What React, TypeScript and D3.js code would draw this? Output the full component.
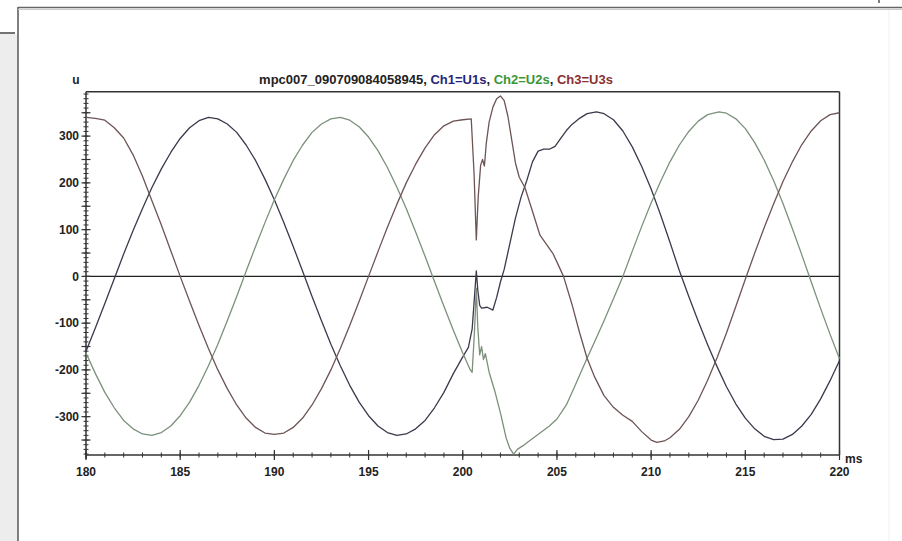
import React from "react";
import * as d3 from "d3";

const titleParts = ["mpc007_090709084058945, ", "Ch1=U1s", ", ", "Ch2=U2s", ", ", "Ch3=U3s"];
const yAxisName = "u";
const xAxisName = "ms";
const xTickLabels = [180, 185, 190, 195, 200, 205, 210, 215, 220];
const yTickLabels = [-300, -200, -100, 0, 100, 200, 300];

const ch1: [number, number][] = [
  [180,-160],[180.5,-110],[181,-58],[181.5,-5],[182,48],[182.5,98],[183,145],[183.5,190],[184,230],[184.5,265],
  [185,295],[185.5,318],[186,333],[186.5,340],[187,337],[187.5,326],[188,308],[188.5,281],[189,248],[189.5,208],
  [190,164],[190.5,115],[191,64],[191.5,11],[192,-43],[192.5,-95],[193,-145],[193.5,-191],[194,-233],[194.5,-269],
  [195,-298],[195.5,-320],[196,-334],[196.5,-340],[197,-337],[197.5,-326],[198,-308],[198.5,-281],[199,-248],[199.5,-208],
  [200,-172],[200.3,-152],[200.5,-112],[200.62,-45],[200.72,12],[200.8,-30],[200.9,-62],[201,-68],[201.3,-66],[201.6,-72],
  [201.8,-45],[202,-12],[202.2,15],[202.5,70],[202.8,125],[203.1,170],[203.4,205],[203.7,245],[204,268],[204.3,272],
  [204.6,272],[204.9,278],[205.2,295],[205.5,312],[205.8,325],[206.2,338],[206.6,348],[207.1,352],[207.5,348],[208,335],
  [208.5,311],[209,277],[209.5,235],[210,187],[210.5,132],[211,73],[211.5,12],[212,-43],[212.5,-96],[213,-146],
  [213.5,-193],[214,-236],[214.5,-273],[215,-303],[215.5,-326],[216,-342],[216.5,-349],[217,-348],[217.5,-338],[218,-320],
  [218.5,-295],[219,-262],[219.5,-223],[220,-180]
];

const ch2: [number, number][] = [
  [180,-164],[180.5,-208],[181,-248],[181.5,-281],[182,-308],[182.5,-326],[183,-337],[183.5,-340],[184,-334],[184.5,-320],
  [185,-298],[185.5,-269],[186,-233],[186.5,-191],[187,-145],[187.5,-95],[188,-43],[188.5,11],[189,64],[189.5,115],
  [190,164],[190.5,208],[191,248],[191.5,281],[192,308],[192.5,326],[193,337],[193.5,340],[194,334],[194.5,320],
  [195,298],[195.5,269],[196,233],[196.5,191],[197,145],[197.5,95],[198,43],[198.5,-11],[199,-64],[199.5,-115],
  [200,-164],[200.4,-200],[200.5,-205],[200.62,-120],[200.72,-25],[200.8,-110],[200.9,-168],[201,-150],[201.1,-178],[201.2,-165],
  [201.4,-205],[201.7,-245],[202,-292],[202.3,-345],[202.5,-368],[202.7,-380],[202.9,-370],[203.2,-362],[203.6,-350],[204.1,-335],
  [204.6,-320],[205,-305],[205.5,-275],[206,-230],[206.6,-175],[207,-140],[207.5,-95],[208,-48],[208.5,0],[209,54],
  [209.5,107],[210,157],[210.5,203],[211,245],[211.5,281],[212,310],[212.5,332],[213,346],[213.6,352],[214,349],
  [214.5,337],[215,316],[215.5,286],[216,249],[216.5,205],[217,156],[217.5,102],[218,46],[218.5,-12],[219,-69],
  [219.5,-124],[220,-176]
];

const ch3: [number, number][] = [
  [180,340],[180.5,338],[181,334],[181.5,318],[182,296],[182.5,260],[183,214],[183.5,162],[184,110],[184.5,55],
  [185,0],[185.5,-53],[186,-105],[186.5,-154],[187,-200],[187.5,-240],[188,-275],[188.5,-303],[189,-323],[189.5,-335],
  [190,-338],[190.5,-335],[191,-323],[191.5,-303],[192,-275],[192.5,-240],[193,-200],[193.5,-154],[194,-105],[194.5,-53],
  [195,0],[195.5,53],[196,105],[196.5,154],[197,200],[197.5,240],[198,275],[198.5,303],[199,322],[199.5,332],
  [200,335],[200.45,337],[200.6,220],[200.72,78],[200.82,170],[200.95,238],[201.05,250],[201.15,236],[201.25,285],[201.4,330],
  [201.6,362],[201.8,380],[202,386],[202.2,376],[202.4,342],[202.6,292],[202.8,242],[203,212],[203.3,190],[203.6,152],
  [204.1,88],[204.5,65],[204.8,48],[205.1,22],[205.35,0],[205.8,-60],[206.2,-120],[206.6,-175],[207,-215],[207.5,-255],
  [208,-280],[208.5,-297],[209,-310],[209.5,-332],[210,-350],[210.3,-355],[210.7,-352],[211,-345],[211.5,-327],[212,-300],
  [212.5,-265],[213,-222],[213.5,-174],[214,-121],[214.5,-64],[215,-6],[215.5,50],[216,104],[216.5,155],[217,203],
  [217.5,245],[218,282],[218.5,311],[219,333],[219.5,346],[220,350]
];

const series = [
  { name: "Ch1", data: ch1, color: "#3a3a4c" },
  { name: "Ch2", data: ch2, color: "#7c907c" },
  { name: "Ch3", data: ch3, color: "#6e5454" },
];

export default function App() {
  const W = 902, H = 541;
  const L = 86, R = 839.5, T = 91.7, B = 455;
  const x = d3.scaleLinear().domain([180, 220]).range([L, R]);
  const y = d3.scaleLinear().domain([-382, 395]).range([B, T]);
  const line = d3.line<[number, number]>().x(d => x(d[0])).y(d => y(d[1]));

  const yMinor = d3.range(-380, 391, 10);
  const yMid = d3.range(-350, 391, 50);
  const xMinor = d3.range(180, 221, 1);
  const font = "'Liberation Sans', Arial, sans-serif";
  const titleColors = ["#222", "#26267a", "#222", "#3a963a", "#222", "#883030"];

  return (
    <svg width={W} height={H} style={{ position: "fixed", left: 0, top: 0, background: "#fff" }}>
      <rect x={0} y={0} width={W} height={H} fill="#fff" />
      {/* outer frame */}
      <rect x={0} y={34} width={17} height={H - 34} fill="#ededed" />
      <line x1={0} y1={33} x2={15} y2={33} stroke="#444" strokeWidth={1.5} />
      <line x1={18} y1={7} x2={18} y2={H} stroke="#555" strokeWidth={1.5} />
      <line x1={18} y1={7.5} x2={W} y2={7.5} stroke="#666" strokeWidth={1.5} />
      <line x1={18} y1={9.5} x2={W} y2={9.5} stroke="#ccc" strokeWidth={1} />
      <line x1={879} y1={0} x2={879} y2={3} stroke="#555" strokeWidth={1.5} />
      <line x1={889} y1={10} x2={889} y2={H} stroke="#f0f0f0" strokeWidth={1} />

      {/* title */}
      <text x={436} y={84} textAnchor="middle" fontFamily={font} fontWeight="bold" fontSize={13}>
        {titleParts.map((p, i) => (
          <tspan key={i} fill={titleColors[i]}>{p}</tspan>
        ))}
      </text>
      <text x={76} y={84} fontFamily={font} fontWeight="bold" fontSize={12} fill="#222" textAnchor="middle">{yAxisName}</text>
      <text x={845} y={463} fontFamily={font} fontWeight="bold" fontSize={12} fill="#222">{xAxisName}</text>

      {/* plot frame */}
      <line x1={L} y1={T} x2={R} y2={T} stroke="#333" strokeWidth={1.5} />
      <line x1={R} y1={T} x2={R} y2={B} stroke="#333" strokeWidth={1.5} />
      <line x1={L} y1={T} x2={L} y2={B + 4} stroke="#333" strokeWidth={1.5} />
      <line x1={L} y1={B} x2={R} y2={B} stroke="#333" strokeWidth={1.5} />
      <line x1={L} y1={y(0)} x2={R} y2={y(0)} stroke="#222" strokeWidth={1.2} />

      {/* y ticks */}
      {yMinor.map(v => (
        <line key={"ym" + v} x1={L - 2.5} x2={L + 2.5} y1={y(v)} y2={y(v)} stroke="#333" strokeWidth={1} />
      ))}
      {yMid.map(v => (
        <line key={"yM" + v} x1={L - 4.5} x2={L + 4.5} y1={y(v)} y2={y(v)} stroke="#333" strokeWidth={1.2} />
      ))}
      {yTickLabels.map(v => (
        <text key={"yl" + v} x={79} y={y(v)} dy="0.35em" textAnchor="end" fontFamily={font} fontWeight="bold" fontSize={12} fill="#222">{v}</text>
      ))}

      {/* x ticks */}
      {xMinor.map(v => (
        <line key={"xm" + v} x1={x(v)} x2={x(v)} y1={B - 2.5} y2={B + 2.5} stroke="#333" strokeWidth={1} />
      ))}
      {xTickLabels.map(v => (
        <g key={"xl" + v}>
          <line x1={x(v)} x2={x(v)} y1={B - 5} y2={B + 5} stroke="#333" strokeWidth={1.2} />
          <text x={x(v)} y={476} textAnchor="middle" fontFamily={font} fontWeight="bold" fontSize={12} fill="#222">{v}</text>
        </g>
      ))}

      {/* series */}
      {series.map(s => (
        <path key={s.name} d={line(s.data) || ""} fill="none" stroke={s.color} strokeWidth={1.3} strokeLinejoin="round" />
      ))}
    </svg>
  );
}
